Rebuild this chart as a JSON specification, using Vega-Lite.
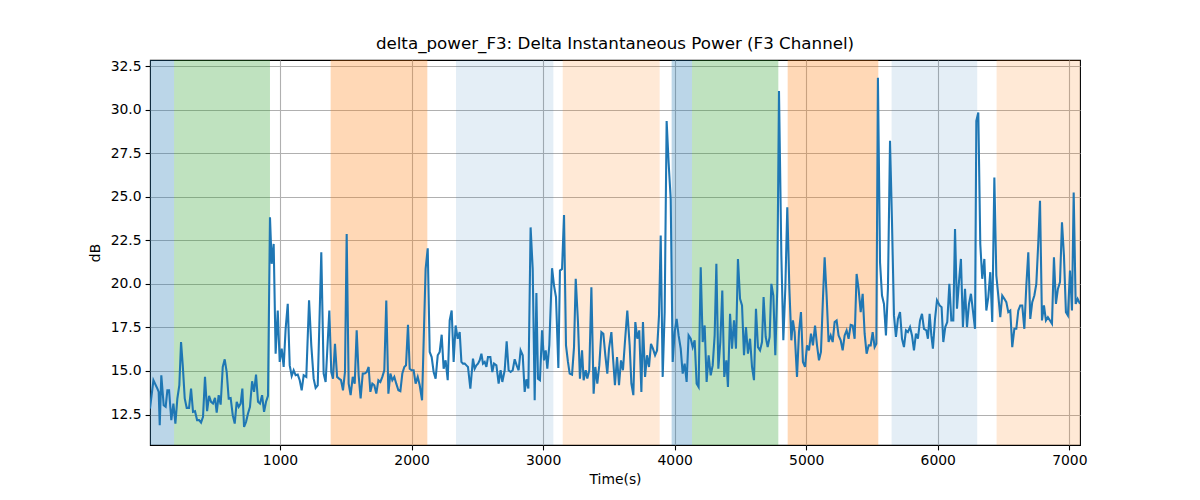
{
"$schema": "https://vega.github.io/schema/vega-lite/v6.json",
"width": 930, "height": 385,
"autosize": {"type": "none"},
"padding": {"left": 150, "top": 60, "right": 120, "bottom": 55},
"background": "white",
"config": {
 "font": "DejaVu Sans",
 "view": {"stroke": "black", "strokeWidth": 1.1},
 "axis": {"domain": false, "tickColor": "black", "tickSize": 4.9, "tickWidth": 1.1, "labelFontSize": 13.9, "labelColor": "black", "labelPadding": 4, "gridColor": "#b0b0b0", "gridWidth": 1.1, "titleFontSize": 13.9, "titleFontWeight": "normal", "titleColor": "black"}
},
"title": {"text": "delta_power_F3: Delta Instantaneous Power (F3 Channel)", "fontSize": 16.7, "fontWeight": "normal", "font": "DejaVu Sans", "color": "black", "offset": 6, "anchor": "middle"},
"datasets": {
 "bands": [
  {"s": 12, "e": 195, "k": "blue"},
  {"s": 195, "e": 924, "k": "green"},
  {"s": 1385, "e": 2120, "k": "orange"},
  {"s": 2338, "e": 3078, "k": "lightblue"},
  {"s": 3149, "e": 3886, "k": "lightorange"},
  {"s": 3977, "e": 4132, "k": "blue"},
  {"s": 4132, "e": 4788, "k": "green"},
  {"s": 4859, "e": 5548, "k": "orange"},
  {"s": 5649, "e": 6300, "k": "lightblue"},
  {"s": 6447, "e": 7081, "k": "lightorange"}
 ],
 "series": [
{"t":12,"v":12.84},{"t":38,"v":14.47},{"t":68,"v":13.99},{"t":78,"v":13.80},{"t":86,"v":11.89},{"t":98,"v":14.75},{"t":116,"v":13.03},{"t":131,"v":12.94},{"t":144,"v":13.89},{"t":157,"v":13.89},{"t":174,"v":12.18},{"t":190,"v":13.13},{"t":205,"v":11.98},{"t":220,"v":13.42},{"t":235,"v":14.18},{"t":248,"v":16.66},{"t":261,"v":15.32},{"t":276,"v":13.42},{"t":291,"v":12.88},{"t":309,"v":12.88},{"t":324,"v":13.99},{"t":339,"v":12.65},{"t":354,"v":12.69},{"t":370,"v":12.18},{"t":385,"v":12.18},{"t":400,"v":12.04},{"t":415,"v":12.37},{"t":430,"v":14.66},{"t":446,"v":12.69},{"t":461,"v":13.57},{"t":476,"v":13.23},{"t":491,"v":13.13},{"t":506,"v":13.45},{"t":519,"v":12.61},{"t":534,"v":13.61},{"t":549,"v":13.07},{"t":565,"v":15.23},{"t":580,"v":15.67},{"t":595,"v":14.94},{"t":610,"v":13.42},{"t":625,"v":13.45},{"t":641,"v":12.46},{"t":656,"v":11.98},{"t":671,"v":13.23},{"t":686,"v":12.94},{"t":701,"v":13.13},{"t":714,"v":13.99},{"t":727,"v":11.79},{"t":742,"v":12.08},{"t":757,"v":12.56},{"t":772,"v":12.94},{"t":788,"v":14.41},{"t":803,"v":13.80},{"t":818,"v":14.79},{"t":833,"v":13.23},{"t":848,"v":13.13},{"t":864,"v":13.61},{"t":879,"v":12.65},{"t":894,"v":13.23},{"t":909,"v":13.57},{"t":924,"v":23.82},{"t":937,"v":21.15},{"t":952,"v":22.29},{"t":967,"v":15.99},{"t":983,"v":18.47},{"t":998,"v":15.52},{"t":1013,"v":16.28},{"t":1028,"v":15.23},{"t":1043,"v":17.42},{"t":1059,"v":18.85},{"t":1074,"v":15.32},{"t":1089,"v":14.71},{"t":1104,"v":15.04},{"t":1119,"v":14.75},{"t":1135,"v":14.79},{"t":1150,"v":14.47},{"t":1165,"v":13.89},{"t":1180,"v":14.75},{"t":1200,"v":14.66},{"t":1221,"v":19.05},{"t":1238,"v":16.47},{"t":1256,"v":14.56},{"t":1271,"v":14.03},{"t":1287,"v":14.18},{"t":1314,"v":21.81},{"t":1332,"v":14.85},{"t":1347,"v":14.37},{"t":1375,"v":18.47},{"t":1390,"v":14.94},{"t":1403,"v":14.56},{"t":1418,"v":16.56},{"t":1434,"v":14.66},{"t":1449,"v":14.56},{"t":1464,"v":14.47},{"t":1479,"v":13.89},{"t":1494,"v":14.94},{"t":1507,"v":22.86},{"t":1522,"v":14.27},{"t":1537,"v":13.61},{"t":1553,"v":14.66},{"t":1568,"v":14.27},{"t":1583,"v":17.33},{"t":1598,"v":14.75},{"t":1613,"v":13.42},{"t":1629,"v":14.85},{"t":1644,"v":14.85},{"t":1659,"v":14.94},{"t":1674,"v":15.23},{"t":1687,"v":13.80},{"t":1702,"v":14.27},{"t":1717,"v":14.18},{"t":1732,"v":13.70},{"t":1748,"v":14.47},{"t":1763,"v":14.37},{"t":1778,"v":14.66},{"t":1793,"v":15.04},{"t":1808,"v":19.05},{"t":1824,"v":13.70},{"t":1839,"v":14.85},{"t":1854,"v":14.47},{"t":1869,"v":14.66},{"t":1884,"v":14.27},{"t":1900,"v":13.89},{"t":1915,"v":13.84},{"t":1930,"v":14.85},{"t":1945,"v":15.23},{"t":1958,"v":15.32},{"t":1973,"v":17.65},{"t":1986,"v":15.13},{"t":2001,"v":15.04},{"t":2016,"v":15.04},{"t":2031,"v":14.27},{"t":2047,"v":14.66},{"t":2062,"v":14.18},{"t":2080,"v":13.32},{"t":2107,"v":20.86},{"t":2123,"v":22.04},{"t":2138,"v":16.09},{"t":2153,"v":15.80},{"t":2168,"v":14.94},{"t":2183,"v":14.56},{"t":2199,"v":15.90},{"t":2214,"v":16.09},{"t":2229,"v":17.08},{"t":2244,"v":15.13},{"t":2259,"v":15.61},{"t":2275,"v":14.47},{"t":2290,"v":17.90},{"t":2305,"v":18.47},{"t":2320,"v":15.52},{"t":2335,"v":17.61},{"t":2351,"v":16.85},{"t":2366,"v":17.23},{"t":2379,"v":15.52},{"t":2391,"v":15.42},{"t":2404,"v":15.42},{"t":2417,"v":15.32},{"t":2429,"v":15.23},{"t":2447,"v":13.99},{"t":2467,"v":15.71},{"t":2480,"v":15.13},{"t":2493,"v":15.32},{"t":2505,"v":15.42},{"t":2518,"v":15.61},{"t":2531,"v":15.99},{"t":2543,"v":15.42},{"t":2556,"v":15.52},{"t":2569,"v":15.23},{"t":2581,"v":15.80},{"t":2599,"v":15.80},{"t":2614,"v":14.94},{"t":2627,"v":15.42},{"t":2645,"v":15.32},{"t":2662,"v":14.27},{"t":2677,"v":15.04},{"t":2690,"v":14.37},{"t":2708,"v":15.04},{"t":2723,"v":16.70},{"t":2738,"v":15.04},{"t":2753,"v":14.94},{"t":2769,"v":15.04},{"t":2784,"v":15.67},{"t":2799,"v":15.32},{"t":2814,"v":15.04},{"t":2829,"v":16.18},{"t":2845,"v":15.90},{"t":2860,"v":13.80},{"t":2873,"v":14.52},{"t":2888,"v":13.99},{"t":2905,"v":23.24},{"t":2921,"v":20.86},{"t":2936,"v":13.32},{"t":2949,"v":19.48},{"t":2961,"v":14.56},{"t":2976,"v":14.47},{"t":2992,"v":17.33},{"t":3007,"v":15.61},{"t":3020,"v":16.18},{"t":3032,"v":15.13},{"t":3047,"v":16.47},{"t":3068,"v":20.90},{"t":3083,"v":19.90},{"t":3098,"v":19.24},{"t":3116,"v":15.17},{"t":3128,"v":20.76},{"t":3144,"v":20.86},{"t":3159,"v":23.95},{"t":3174,"v":16.47},{"t":3189,"v":15.52},{"t":3202,"v":14.85},{"t":3220,"v":14.79},{"t":3235,"v":16.37},{"t":3248,"v":20.29},{"t":3265,"v":17.81},{"t":3280,"v":14.56},{"t":3296,"v":16.18},{"t":3308,"v":14.47},{"t":3324,"v":15.04},{"t":3336,"v":14.56},{"t":3351,"v":15.04},{"t":3367,"v":19.81},{"t":3384,"v":13.70},{"t":3397,"v":15.23},{"t":3412,"v":14.27},{"t":3427,"v":15.32},{"t":3443,"v":17.23},{"t":3458,"v":17.14},{"t":3473,"v":15.90},{"t":3488,"v":14.85},{"t":3501,"v":16.28},{"t":3519,"v":17.23},{"t":3531,"v":15.80},{"t":3546,"v":14.18},{"t":3562,"v":15.80},{"t":3577,"v":14.18},{"t":3592,"v":15.61},{"t":3607,"v":15.04},{"t":3622,"v":16.66},{"t":3640,"v":18.47},{"t":3658,"v":16.47},{"t":3671,"v":14.27},{"t":3686,"v":13.61},{"t":3701,"v":17.81},{"t":3716,"v":16.85},{"t":3731,"v":17.33},{"t":3747,"v":13.80},{"t":3759,"v":17.81},{"t":3775,"v":14.66},{"t":3790,"v":15.90},{"t":3805,"v":15.23},{"t":3820,"v":16.56},{"t":3835,"v":16.28},{"t":3851,"v":15.90},{"t":3866,"v":16.18},{"t":3881,"v":18.19},{"t":3894,"v":22.77},{"t":3909,"v":14.66},{"t":3924,"v":18.38},{"t":3939,"v":29.35},{"t":3954,"v":26.97},{"t":3970,"v":24.87},{"t":3985,"v":15.52},{"t":4000,"v":17.23},{"t":4015,"v":17.99},{"t":4030,"v":17.04},{"t":4046,"v":16.28},{"t":4061,"v":14.85},{"t":4076,"v":15.42},{"t":4091,"v":14.37},{"t":4106,"v":17.04},{"t":4122,"v":16.85},{"t":4137,"v":16.37},{"t":4152,"v":16.76},{"t":4167,"v":14.27},{"t":4182,"v":14.08},{"t":4198,"v":20.95},{"t":4213,"v":16.66},{"t":4228,"v":17.61},{"t":4243,"v":14.37},{"t":4258,"v":15.90},{"t":4274,"v":14.75},{"t":4289,"v":15.32},{"t":4304,"v":17.04},{"t":4317,"v":21.15},{"t":4332,"v":15.13},{"t":4347,"v":16.66},{"t":4362,"v":19.62},{"t":4377,"v":14.66},{"t":4393,"v":15.61},{"t":4405,"v":14.08},{"t":4421,"v":18.28},{"t":4436,"v":16.28},{"t":4451,"v":17.90},{"t":4466,"v":16.28},{"t":4481,"v":21.43},{"t":4497,"v":19.14},{"t":4512,"v":18.76},{"t":4527,"v":15.90},{"t":4542,"v":17.52},{"t":4557,"v":15.99},{"t":4573,"v":16.85},{"t":4588,"v":15.23},{"t":4603,"v":14.47},{"t":4618,"v":18.57},{"t":4633,"v":16.37},{"t":4649,"v":16.18},{"t":4664,"v":16.66},{"t":4676,"v":19.24},{"t":4692,"v":16.95},{"t":4707,"v":16.37},{"t":4722,"v":16.95},{"t":4735,"v":20.00},{"t":4750,"v":19.33},{"t":4765,"v":15.90},{"t":4780,"v":19.71},{"t":4793,"v":31.07},{"t":4811,"v":21.62},{"t":4826,"v":16.76},{"t":4841,"v":19.71},{"t":4856,"v":24.39},{"t":4872,"v":19.71},{"t":4887,"v":16.76},{"t":4899,"v":17.90},{"t":4912,"v":17.23},{"t":4930,"v":14.66},{"t":4945,"v":17.23},{"t":4960,"v":18.38},{"t":4975,"v":15.52},{"t":4991,"v":15.23},{"t":5006,"v":16.47},{"t":5021,"v":16.18},{"t":5036,"v":17.14},{"t":5051,"v":16.47},{"t":5067,"v":17.61},{"t":5082,"v":16.47},{"t":5097,"v":15.61},{"t":5112,"v":16.09},{"t":5127,"v":19.14},{"t":5140,"v":21.53},{"t":5155,"v":19.33},{"t":5170,"v":16.66},{"t":5186,"v":17.04},{"t":5201,"v":16.66},{"t":5216,"v":17.81},{"t":5231,"v":17.90},{"t":5246,"v":17.04},{"t":5262,"v":16.76},{"t":5277,"v":16.18},{"t":5292,"v":17.04},{"t":5307,"v":17.33},{"t":5322,"v":16.85},{"t":5338,"v":17.65},{"t":5353,"v":17.61},{"t":5368,"v":16.85},{"t":5383,"v":20.57},{"t":5398,"v":19.71},{"t":5414,"v":18.38},{"t":5429,"v":19.43},{"t":5444,"v":17.14},{"t":5459,"v":15.99},{"t":5475,"v":16.47},{"t":5490,"v":16.47},{"t":5505,"v":17.23},{"t":5520,"v":16.37},{"t":5533,"v":16.56},{"t":5545,"v":31.83},{"t":5561,"v":21.24},{"t":5576,"v":19.33},{"t":5591,"v":18.85},{"t":5606,"v":17.04},{"t":5621,"v":19.71},{"t":5637,"v":28.21},{"t":5652,"v":23.53},{"t":5667,"v":18.19},{"t":5682,"v":16.95},{"t":5697,"v":17.99},{"t":5713,"v":18.38},{"t":5728,"v":16.85},{"t":5743,"v":16.37},{"t":5758,"v":17.33},{"t":5773,"v":17.23},{"t":5789,"v":17.52},{"t":5804,"v":17.04},{"t":5819,"v":16.18},{"t":5834,"v":17.14},{"t":5849,"v":16.85},{"t":5865,"v":17.90},{"t":5880,"v":18.28},{"t":5895,"v":17.42},{"t":5913,"v":17.33},{"t":5925,"v":16.85},{"t":5938,"v":18.28},{"t":5951,"v":17.04},{"t":5963,"v":16.28},{"t":5979,"v":17.99},{"t":5994,"v":19.05},{"t":6014,"v":18.76},{"t":6029,"v":18.66},{"t":6042,"v":16.66},{"t":6057,"v":17.52},{"t":6072,"v":17.81},{"t":6088,"v":20.00},{"t":6103,"v":17.90},{"t":6118,"v":17.90},{"t":6131,"v":23.15},{"t":6146,"v":18.57},{"t":6161,"v":20.10},{"t":6176,"v":21.43},{"t":6191,"v":17.52},{"t":6207,"v":19.71},{"t":6222,"v":17.52},{"t":6237,"v":18.85},{"t":6252,"v":19.43},{"t":6267,"v":18.47},{"t":6283,"v":17.42},{"t":6293,"v":29.35},{"t":6308,"v":29.83},{"t":6323,"v":22.29},{"t":6338,"v":20.29},{"t":6354,"v":21.43},{"t":6369,"v":18.47},{"t":6384,"v":19.24},{"t":6399,"v":20.67},{"t":6414,"v":17.81},{"t":6430,"v":26.11},{"t":6445,"v":20.48},{"t":6460,"v":19.33},{"t":6475,"v":18.09},{"t":6490,"v":19.33},{"t":6506,"v":19.14},{"t":6521,"v":18.95},{"t":6536,"v":18.38},{"t":6551,"v":18.47},{"t":6566,"v":16.37},{"t":6582,"v":17.42},{"t":6597,"v":17.42},{"t":6612,"v":18.47},{"t":6627,"v":18.76},{"t":6642,"v":18.76},{"t":6658,"v":17.42},{"t":6673,"v":19.90},{"t":6688,"v":21.81},{"t":6703,"v":17.99},{"t":6718,"v":18.95},{"t":6734,"v":19.33},{"t":6749,"v":20.00},{"t":6764,"v":22.39},{"t":6777,"v":24.77},{"t":6792,"v":17.90},{"t":6807,"v":18.76},{"t":6822,"v":17.90},{"t":6837,"v":18.09},{"t":6853,"v":17.90},{"t":6868,"v":17.71},{"t":6883,"v":21.53},{"t":6898,"v":18.85},{"t":6913,"v":19.71},{"t":6929,"v":20.10},{"t":6944,"v":23.53},{"t":6959,"v":21.62},{"t":6974,"v":18.38},{"t":6989,"v":18.19},{"t":7005,"v":20.76},{"t":7020,"v":18.47},{"t":7033,"v":25.25},{"t":7048,"v":18.85},{"t":7063,"v":19.14},{"t":7081,"v":18.85}
 ]
},
"layer": [
 {
  "data": {"name": "bands"},
  "transform": [{"filter": "datum.k === 'blue' || datum.k === 'green' || datum.k === 'orange'"}],
  "mark": {"type": "rect", "clip": true, "opacity": 0.3},
  "encoding": {
   "x": {"field": "s", "type": "quantitative", "scale": {"domain": [12, 7081], "nice": false, "zero": false},
         "axis": {"values": [1000, 2000, 3000, 4000, 5000, 6000, 7000], "format": "d", "title": "Time(s)", "titlePadding": 5}},
   "x2": {"field": "e"},
   "color": {"field": "k", "type": "nominal", "legend": null,
     "scale": {"domain": ["blue", "green", "orange", "lightblue", "lightorange"], "range": ["#1f77b4", "#2ca02c", "#ff7f0e", "#1f77b4", "#ff7f0e"]}}
  }
 },
 {
  "data": {"name": "bands"},
  "transform": [{"filter": "datum.k === 'lightblue'"}],
  "mark": {"type": "rect", "clip": true, "opacity": 0.12},
  "encoding": {
   "x": {"field": "s", "type": "quantitative"},
   "x2": {"field": "e"},
   "color": {"field": "k", "type": "nominal", "legend": null}
  }
 },
 {
  "data": {"name": "bands"},
  "transform": [{"filter": "datum.k === 'lightorange'"}],
  "mark": {"type": "rect", "clip": true, "opacity": 0.17},
  "encoding": {
   "x": {"field": "s", "type": "quantitative"},
   "x2": {"field": "e"},
   "color": {"field": "k", "type": "nominal", "legend": null}
  }
 },
 {
  "data": {"name": "series"},
  "mark": {"type": "line", "color": "#1f77b4", "strokeWidth": 2.08, "clip": true},
  "encoding": {
   "x": {"field": "t", "type": "quantitative"},
   "y": {"field": "v", "type": "quantitative", "scale": {"domain": [10.75, 32.85], "nice": false, "zero": false},
         "axis": {"values": [12.5, 15, 17.5, 20, 22.5, 25, 27.5, 30, 32.5], "format": ".1f", "title": "dB", "titlePadding": 8}}
  }
 }
]
}
